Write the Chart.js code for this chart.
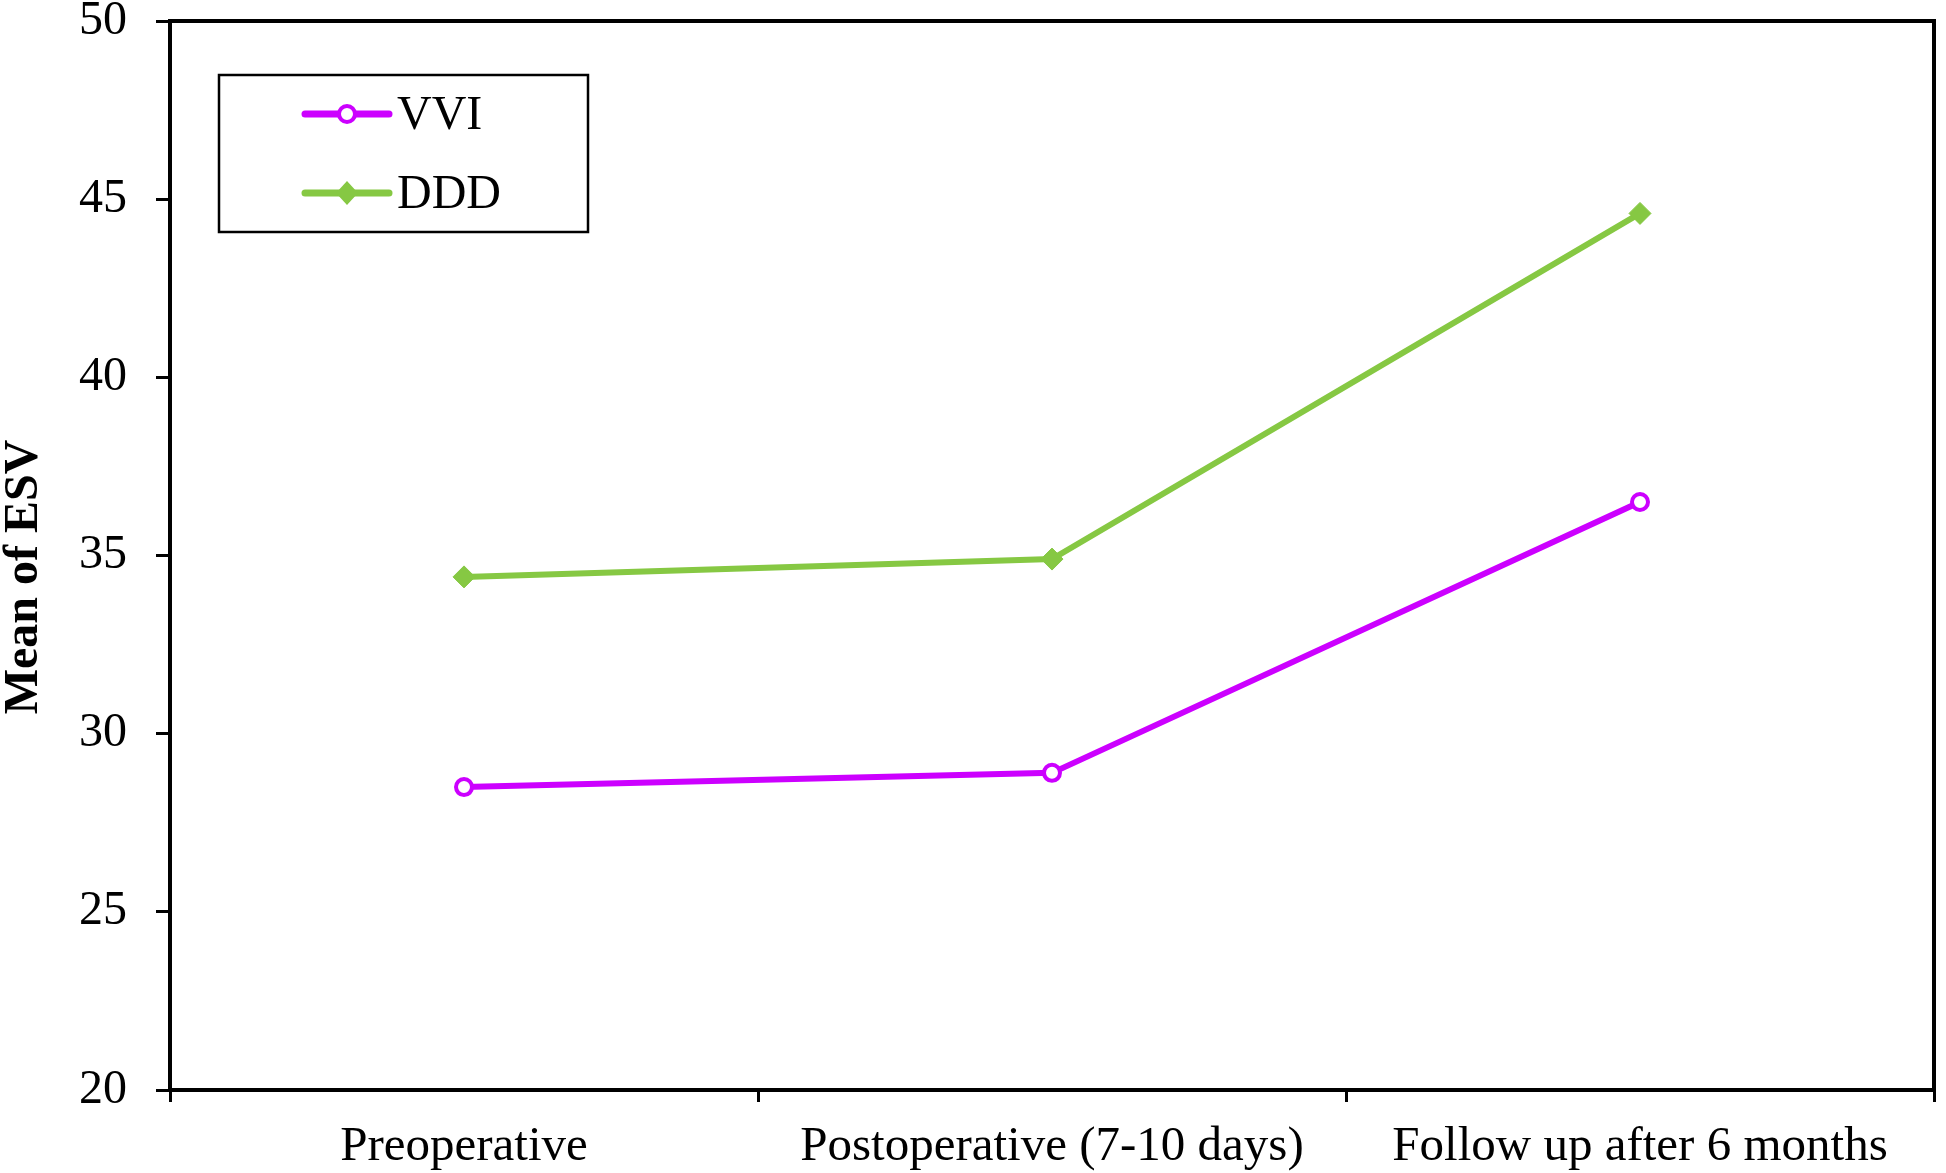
<!DOCTYPE html>
<html>
<head>
<meta charset="utf-8">
<script src="https://cdn.jsdelivr.net/npm/chart.js@4.4.0/dist/chart.umd.min.js"></script>
<style>
    html, body { margin: 0; padding: 0; background: #fff; }
    #wrap { width: 1946px; height: 1173px; }
</style>
</head>
<body>
<div id="wrap"><canvas id="esvChart"></canvas></div>
<script>
const categories = ["Preoperative", "Postoperative (7-10 days)", "Follow up after 6 months"];
const vviValues = [28.5, 28.9, 36.5];
const dddValues = [34.4, 34.9, 44.6];
const yTicks = [20, 25, 30, 35, 40, 45, 50];

const serif = '"Liberation Serif", "Times New Roman", serif';

// frame around plot + boxed legend in the top-left corner
const framePlugin = {
    id: "frame",
    afterDraw(chart) {
        const ctx = chart.ctx;
        const a = chart.chartArea;
        ctx.save();
        ctx.strokeStyle = "#000";
        ctx.lineWidth = 4;
        ctx.beginPath();
        ctx.moveTo(a.left, a.top);
        ctx.lineTo(a.right, a.top);
        ctx.lineTo(a.right, a.bottom);
        ctx.stroke();

        // legend box
        ctx.lineWidth = 2.5;
        ctx.strokeRect(219, 75, 369, 157);
        const rows = [114, 193];
        chart.data.datasets.forEach((ds, i) => {
            const y = rows[i];
            ctx.strokeStyle = ds.borderColor;
            ctx.lineWidth = 7;
            ctx.lineCap = "round";
            ctx.beginPath();
            ctx.moveTo(305, y);
            ctx.lineTo(389, y);
            ctx.stroke();
            if (ds.pointStyle === "rectRot") {
                ctx.fillStyle = ds.borderColor;
                ctx.beginPath();
                ctx.moveTo(347, y - 12);
                ctx.lineTo(358, y);
                ctx.lineTo(347, y + 12);
                ctx.lineTo(336, y);
                ctx.closePath();
                ctx.fill();
            } else {
                ctx.fillStyle = "#fff";
                ctx.lineWidth = 4;
                ctx.beginPath();
                ctx.arc(347, y, 8, 0, Math.PI * 2);
                ctx.fill();
                ctx.stroke();
            }
            ctx.fillStyle = "#000";
            ctx.font = "48px " + serif;
            ctx.textBaseline = "middle";
            ctx.fillText(ds.label, 397, y + 2);
        });

        // y axis title
        ctx.translate(25, 577);
        ctx.rotate(-Math.PI / 2);
        ctx.font = "bold 48px " + serif;
        ctx.textAlign = "center";
        ctx.textBaseline = "middle";
        ctx.fillStyle = "#000";
        ctx.fillText("Mean of ESV", 0, 0);
        ctx.restore();
    },
};

const esvChart = document.getElementById("esvChart");
new Chart(esvChart, {
    type: "line",
    data: {
        labels: categories,
        datasets: [
            {
                label: "VVI",
                data: vviValues,
                borderColor: "#cc00ff",
                backgroundColor: "#ffffff",
                borderWidth: 6,
                pointStyle: "circle",
                pointRadius: 8,
                pointBorderWidth: 4,
                tension: 0,
            },
            {
                label: "DDD",
                data: dddValues,
                borderColor: "#86c843",
                backgroundColor: "#86c843",
                borderWidth: 6,
                pointStyle: "rectRot",
                pointRadius: 11,
                pointBorderWidth: 1,
                tension: 0,
            },
        ],
    },
    options: {
        responsive: true,
        maintainAspectRatio: false,
        animation: false,
        layout: { padding: { top: 0, right: 8, left: 0, bottom: 0 } },
        plugins: {
            legend: { display: false },
            tooltip: { enabled: false },
        },
        scales: {
            x: {
                offset: true,
                grid: {
                    offset: true,
                    drawOnChartArea: false,
                    color: "#000",
                    lineWidth: 3,
                    tickLength: 12,
                },
                border: { color: "#000", width: 4 },
                ticks: {
                    color: "#000",
                    font: { family: serif, size: 49 },
                    padding: 16,
                    maxRotation: 0,
                },
                afterFit(scale) {
                    scale.height = 83;
                },
            },
            y: {
                min: 20,
                max: 50,
                afterBuildTicks(scale) {
                    scale.ticks = yTicks.map((v) => ({ value: v }));
                },
                grid: {
                    drawOnChartArea: false,
                    color: "#000",
                    lineWidth: 3,
                    tickLength: 14,
                },
                border: { color: "#000", width: 4 },
                ticks: {
                    color: "#000",
                    font: { family: serif, size: 48 },
                    padding: 29,
                },
                afterFit(scale) {
                    scale.width = 170;
                    scale.paddingTop = 21;
                    scale.paddingBottom = 0;
                },
            },
        },
    },
    plugins: [framePlugin],
});
</script>
</body>
</html>
